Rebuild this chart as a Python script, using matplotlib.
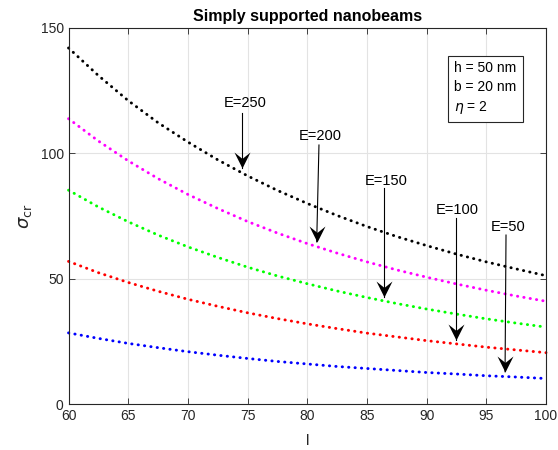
import matplotlib
matplotlib.use("Agg")
import matplotlib.pyplot as plt
from matplotlib.path import Path

plt.rcParams['font.family'] = ['Liberation Sans', 'DejaVu Sans']

# długość belki l
l = [60, 62.5, 65, 67.5, 70, 72.5, 75, 77.5, 80, 82.5, 85, 87.5, 90, 92.5, 95, 97.5, 100]

# naprężenia krytyczne dla różnych E
s_E250 = [142, 131, 121, 112.2, 104.5, 97.4, 91, 85.2, 80, 75.2, 70.8, 66.8, 63.2, 59.8, 56.7, 53.9, 51.2]
s_E200 = [113.8, 104.9, 97, 89.9, 83.6, 78, 72.8, 68.2, 64, 60.2, 56.7, 53.5, 50.6, 47.9, 45.4, 43.1, 41]
s_E150 = [85.3, 78.6, 72.7, 67.4, 62.7, 58.5, 54.6, 51.1, 48, 45.1, 42.5, 40.1, 37.9, 35.9, 34, 32.3, 30.7]
s_E100 = [56.9, 52.4, 48.5, 45, 41.8, 39, 36.4, 34.1, 32, 30.1, 28.3, 26.8, 25.3, 24, 22.7, 21.6, 20.5]
s_E50 = [28.4, 26.2, 24.2, 22.5, 20.9, 19.5, 18.2, 17, 16, 15, 14.2, 13.4, 12.6, 12, 11.3, 10.8, 10.2]

serie = [s_E250, s_E200, s_E150, s_E100, s_E50]
kolory = ['black', 'magenta', '#00ff00', 'red', 'blue']

# podpisy strzałek: tekst, (x, y) tekstu, początek i koniec strzałki
etykiety = ['E=250', 'E=200', 'E=150', 'E=100', 'E=50']
tekst_xy = [(74.8, 120), (81.1, 106.9), (86.6, 89.1), (92.6, 77.4), (96.8, 70.5)]
strz_od = [(74.5, 116.2), (80.98, 103.3), (86.4, 86.05), (92.43, 74.1), (96.65, 67.4)]
strz_do = [(74.5, 94.1), (80.79, 64.7), (86.4, 42.8), (92.43, 25.5), (96.57, 12.9)]

opis = "h = 50 nm\nb = 20 nm\n$\\eta$ = 2"

# grot strzałki w stylu matlaba (wklęsły), czubek w (0,0)
grot = Path([(0, 0), (-0.5, 1), (0, 0.6), (0.5, 1), (0, 0)],
            [Path.MOVETO, Path.LINETO, Path.LINETO, Path.LINETO, Path.CLOSEPOLY])

fig = plt.figure(figsize=(5.58, 4.5), dpi=100)
ax = fig.add_axes([0.1228, 0.102, 0.8557, 0.836])

for s, k in zip(serie, kolory):
    ax.plot(l, s, color=k, linestyle=(0, (0.1, 2.1)), linewidth=2.1,
            dash_capstyle='round', clip_on=False)

for txt, t, a, b in zip(etykiety, tekst_xy, strz_od, strz_do):
    ax.text(t[0], t[1], txt, ha='center', va='center', fontsize=10.5, color='black')
    ax.plot([a[0], b[0]], [a[1], b[1]], color='black', lw=0.8)
    ax.plot(b[0], b[1], marker=grot, markersize=23, color='black', markeredgewidth=0)

ax.text(0.8075, 0.913, opis, transform=ax.transAxes, ha='left', va='top',
        fontsize=10, linespacing=1.45,
        bbox=dict(boxstyle='square,pad=0.45', facecolor='white', edgecolor='#262626', lw=0.8))

ax.set_xlim(60, 100)
ax.set_ylim(0, 150)
ax.set_xticks(range(60, 101, 5))
ax.set_yticks([0, 50, 100, 150])
ax.grid(True, color='#e3e3e3', linewidth=0.8)
ax.set_axisbelow(True)
ax.tick_params(direction='in', top=True, right=True, labelsize=10, colors='#262626',
               length=4, width=0.6)
for sp in ax.spines.values():
    sp.set_color('#262626')
    sp.set_linewidth(0.8)

ax.set_title('Simply supported nanobeams', fontsize=11.5, fontweight='bold', pad=5)
ax.set_xlabel('l', fontsize=11, color='#262626', labelpad=8)
ax.set_ylabel('$\\sigma_{\\rm cr}$', fontsize=13, color='#262626', labelpad=5)

fig.savefig('out.png', dpi=100)
